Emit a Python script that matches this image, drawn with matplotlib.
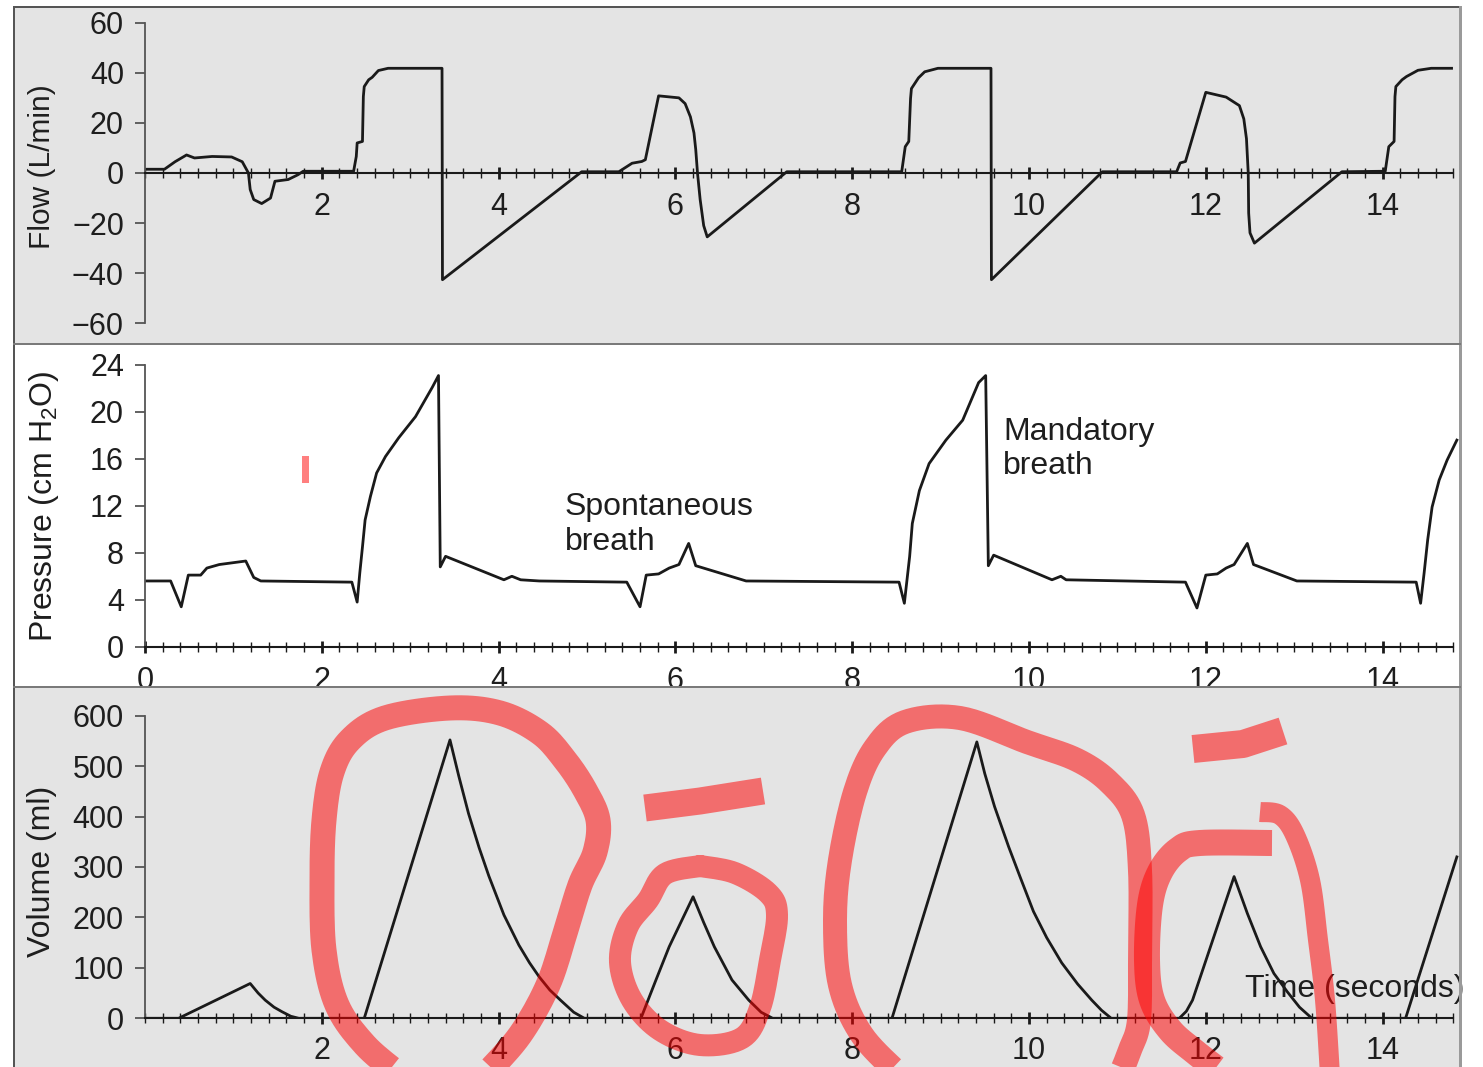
import matplotlib.pyplot as plt
import numpy as np
from matplotlib.lines import Line2D
from matplotlib.patches import Rectangle

plt.rcParams['font.family'] = ['Liberation Sans', 'DejaVu Sans']

# flow (L/min)
flow_time = [0.00, 0.22, 0.34, 0.47, 0.56, 0.76, 0.98, 1.10, 1.17, 1.19, 1.23, 1.32, 1.42, 1.47, 1.62, 1.73, 1.79,
             2.36, 2.39, 2.40, 2.46, 2.47, 2.48, 2.53, 2.57, 2.64, 2.75, 3.36, 3.365,
             4.94, 5.36, 5.51, 5.62, 5.66, 5.81, 6.04, 6.11, 6.17, 6.21, 6.23, 6.25, 6.28, 6.32, 6.36,
             7.26, 8.56, 8.60, 8.64, 8.66, 8.67, 8.75, 8.82, 8.97, 9.57, 9.575,
             10.83, 11.67, 11.71, 11.77, 12.00, 12.23, 12.38, 12.43, 12.46, 12.48, 12.485, 12.50, 12.55,
             13.54, 14.03, 14.07, 14.13, 14.14, 14.15, 14.22, 14.27, 14.40, 14.55, 14.78]
flow_lpm = [1.5, 1.5, 4.5, 7.2, 6.0, 6.6, 6.4, 4.5, 0.0, -6.6, -10.6, -12.2, -10.0, -3.3, -2.6, -0.7, 0.7,
            0.7, 6.6, 12.0, 12.6, 30.5, 34.5, 37.2, 38.2, 40.9, 41.8, 41.8, -42.6,
            0.5, 0.5, 3.9, 4.6, 5.3, 30.8, 30.0, 27.7, 22.4, 16.0, 9.4, 0.0, -10.6, -21.0, -25.5,
            0.5, 0.5, 10.5, 12.6, 29.7, 33.7, 38.0, 40.4, 41.8, 41.8, -42.6,
            0.5, 0.5, 4.0, 4.6, 32.2, 30.3, 26.9, 21.6, 13.7, 0.0, -16.0, -23.9, -28.0,
            0.5, 0.7, 10.5, 12.6, 30.5, 34.5, 37.2, 38.5, 41.0, 41.8, 41.8]

# airway pressure (cm H2O), middle panel
pressure_time = [0.00, 0.29, 0.41, 0.49, 0.63, 0.70, 0.84, 1.14, 1.23, 1.31, 2.34, 2.40, 2.43, 2.46, 2.49,
                 2.55, 2.62, 2.72, 2.87, 3.06, 3.25, 3.32, 3.34, 3.40, 4.06, 4.15, 4.25, 4.46, 5.45, 5.60,
                 5.67, 5.81, 5.93, 6.04, 6.15, 6.23, 6.80, 8.53, 8.59, 8.65, 8.68, 8.76, 8.87, 9.06, 9.25,
                 9.43, 9.51, 9.54, 9.60, 10.26, 10.36, 10.42, 11.77, 11.90, 12.00, 12.13, 12.23, 12.32,
                 12.47, 12.54, 13.03, 14.38, 14.43, 14.47, 14.51, 14.56, 14.64, 14.73, 14.84]
pressure_cmh2o = [5.6, 5.6, 3.4, 6.1, 6.1, 6.7, 7.0, 7.3, 5.9, 5.6, 5.5, 3.8, 6.3, 8.5, 10.8,
                  12.8, 14.8, 16.2, 17.8, 19.6, 22.1, 23.1, 6.8, 7.7, 5.7, 6.0, 5.7, 5.6, 5.5, 3.4,
                  6.1, 6.2, 6.7, 7.0, 8.8, 6.9, 5.6, 5.5, 3.7, 7.7, 10.5, 13.3, 15.6, 17.6, 19.3,
                  22.5, 23.1, 6.9, 7.8, 5.7, 6.0, 5.7, 5.5, 3.3, 6.1, 6.2, 6.7, 7.0,
                  8.8, 7.0, 5.6, 5.5, 3.7, 6.3, 9.1, 11.9, 14.2, 15.9, 17.6]

# volume (ml), bottom panel
volume_time = [0.00, 0.38, 1.19, 1.28, 1.36, 1.46, 1.55, 1.65, 1.74, 2.48, 3.45, 3.55, 3.66, 3.78, 3.89,
               4.06, 4.23, 4.35, 4.46, 4.58, 4.70, 4.85, 4.97, 5.61, 5.78, 5.93, 6.20, 6.32, 6.44, 6.64,
               6.83, 6.97, 7.10, 8.45, 9.41, 9.50, 9.61, 9.77, 9.90, 10.05, 10.20, 10.37, 10.55, 10.71,
               10.82, 10.93, 11.70, 11.78, 11.85, 12.32, 12.47, 12.62, 12.77, 12.92, 13.06, 13.20, 14.26, 14.84]
volume_ml = [0, 0, 69, 50, 36, 22, 13, 4, 0, 0, 552, 480, 406, 338, 282,
             205, 145, 110, 82, 56, 36, 12, 0, 0, 76, 142, 241, 190, 142, 76,
             36, 12, 0, 0, 548, 485, 420, 340, 280, 212, 160, 110, 68, 36,
             16, 0, 0, 14, 36, 281, 208, 142, 89, 53, 22, 0, 0, 320]

x_major = [2, 4, 6, 8, 10, 12, 14]
flow_ticks = [-60, -40, -20, 0, 20, 40, 60]
pressure_ticks = [0, 4, 8, 12, 16, 20, 24]
volume_ticks = [0, 100, 200, 300, 400, 500, 600]

W, H = 1483, 1067
T_END = 14.87
PX0, PX_PER_S = 145.0, 88.4
INK = '#1a1a1a'
TXT = '#1e1e1e'
PANEL_GRAY = '#e4e4e4'


def fx(x):
    return x / W


def fy(y):
    return 1 - y / H


def add_axes_px(fig, top, bottom):
    left = PX0
    right = PX0 + T_END * PX_PER_S
    return fig.add_axes([fx(left), fy(bottom), fx(right) - fx(left), fy(top) - fy(bottom)])


def style(ax, ylim, yticks, xticks, pad):
    ax.set_xlim(0, T_END)
    ax.set_ylim(*ylim)
    ax.patch.set_visible(False)
    ax.spines['top'].set_visible(False)
    ax.spines['right'].set_visible(False)
    ax.spines['left'].set_bounds(*ylim)
    ax.spines['left'].set_color('#555555')
    ax.spines['left'].set_linewidth(1.3)
    ax.spines['bottom'].set_position(('data', 0))
    ax.spines['bottom'].set_bounds(0, 14.8)
    ax.spines['bottom'].set_color(INK)
    ax.spines['bottom'].set_linewidth(1.5)
    ax.set_yticks(yticks)
    ax.set_xticks(xticks)
    ax.set_xticks(np.arange(0, 14.81, 0.2), minor=True)
    ax.tick_params(axis='y', direction='out', length=7.2, width=1.3, color='#555555',
                   labelsize=22, pad=8, labelcolor=TXT)
    ax.tick_params(axis='x', which='major', direction='inout', length=9, width=2.0, color=INK,
                   labelsize=22, pad=pad, labelcolor=TXT)
    ax.tick_params(axis='x', which='minor', direction='inout', length=7.5, width=1.0, color=INK)


def smooth(pts, n=10):
    # rounded path through the hand-drawn stroke's key points (decoration only)
    p = np.array(pts, float)
    p = np.vstack([p[0], p, p[-1]])
    out = []
    for i in range(1, len(p) - 2):
        p0, p1, p2, p3 = p[i - 1], p[i], p[i + 1], p[i + 2]
        for s in np.linspace(0, 1, n, endpoint=False):
            out.append(0.5 * (2 * p1 + (p2 - p0) * s + (2 * p0 - 5 * p1 + 4 * p2 - p3) * s ** 2
                              + (3 * p1 - p0 - 3 * p2 + p3) * s ** 3))
    out.append(p[-2])
    return np.array(out)


fig = plt.figure(figsize=(W / 100, H / 100), dpi=100)
fig.patch.set_facecolor('white')

# panel backgrounds
fig.add_artist(Rectangle((fx(14), fy(344)), fx(1460) - fx(14), fy(7) - fy(344),
                         transform=fig.transFigure, color=PANEL_GRAY, zorder=-10))
fig.add_artist(Rectangle((fx(14), fy(687)), fx(1460) - fx(14), fy(344) - fy(687),
                         transform=fig.transFigure, color='white', zorder=-10))
fig.add_artist(Rectangle((fx(14), fy(1067)), fx(1460) - fx(14), fy(687) - fy(1067),
                         transform=fig.transFigure, color=PANEL_GRAY, zorder=1.5))

ax_flow = add_axes_px(fig, 22.7, 323.3)
ax_press = add_axes_px(fig, 365.0, 646.7)
ax_vol = add_axes_px(fig, 715.7, 1018.3)
ax_flow.set_zorder(1)
ax_press.set_zorder(1)
ax_vol.set_zorder(2)

style(ax_flow, (-60, 60), flow_ticks, x_major, 9.5)
style(ax_press, (0, 24), pressure_ticks, [0] + x_major, 9.5)
style(ax_vol, (0, 600), volume_ticks, x_major, 8)

ax_flow.plot(flow_time, flow_lpm, color=INK, lw=2.0)
ax_press.plot(pressure_time, pressure_cmh2o, color=INK, lw=2.0)
ax_vol.plot(volume_time, volume_ml, color=INK, lw=2.0)

ax_press.text(4.75, 13.2, 'Spontaneous\nbreath', fontsize=23, color=TXT,
              ha='left', va='top', linespacing=1.22)
ax_press.text(9.71, 19.6, 'Mandatory\nbreath', fontsize=23, color=TXT,
              ha='left', va='top', linespacing=1.18)
ax_vol.text(12.44, 88, 'Time (seconds)', fontsize=23, color=TXT, ha='left', va='top')

fig.text(fx(42), fy(167), 'Flow (L/min)', rotation=90, ha='center', va='center',
         fontsize=21.5, color=TXT)
fig.text(fx(44), fy(506), r'Pressure (cm H$_\mathregular{2}$O)', rotation=90, ha='center',
         va='center', fontsize=23, color=TXT)
fig.text(fx(42), fy(871), 'Volume (ml)', rotation=90, ha='center', va='center',
         fontsize=23, color=TXT)

# frame lines
for xs, ys, c, w in [((14, 1460), (7, 7), '#555555', 2),
                     ((14, 14), (7, 1067), '#555555', 2),
                     ((1460, 1460), (7, 1067), '#9a9a9a', 3),
                     ((14, 1460), (344, 344), '#7a7a7a', 2),
                     ((14, 1460), (687, 687), '#7a7a7a', 2)]:
    fig.add_artist(Line2D([fx(v) for v in xs], [fy(v) for v in ys], transform=fig.transFigure,
                          color=c, lw=w * 0.72, zorder=4))

# red hand-drawn marks on top of the chart
red_strokes = [
    (25, 'butt', [(400, 1075), (365, 1045), (337, 1005), (324, 950), (322, 880), (324, 820), (332, 772),
                  (350, 740), (385, 718), (450, 708), (500, 713), (540, 733), (565, 760), (585, 790),
                  (598, 820), (595, 852), (580, 885), (566, 930), (548, 985), (520, 1035), (485, 1075)]),
    (27, 'butt', [(645, 808), (700, 801), (763, 791)]),
    (22, 'round', [(700, 866), (735, 873), (768, 893), (777, 915), (770, 960), (760, 1008), (742, 1038),
                   (700, 1045), (660, 1030), (632, 1000), (620, 962), (628, 926), (648, 900),
                   (665, 874), (700, 866)]),
    (24, 'butt', [(900, 1075), (862, 1035), (840, 985), (835, 920), (840, 860), (855, 792), (875, 748),
                  (905, 722), (960, 718), (1027, 742), (1077, 760), (1110, 783), (1133, 815),
                  (1140, 870), (1140, 950), (1139, 1020), (1130, 1050), (1120, 1075)]),
    (28, 'butt', [(1193, 749), (1243, 744), (1283, 731)]),
    (26, 'butt', [(1272, 843), (1200, 843), (1178, 850), (1160, 872), (1150, 905), (1147, 960),
                  (1152, 1000), (1170, 1030), (1195, 1052), (1225, 1075)]),
    (20, 'butt', [(1260, 812), (1280, 815), (1295, 835), (1310, 880), (1318, 940), (1325, 1000),
                  (1330, 1075)]),
]
for width, cap, pts in red_strokes:
    path = smooth(pts) if len(pts) > 3 else np.array(pts, float)
    fig.add_artist(Line2D(fx(path[:, 0]), fy(path[:, 1]),
                          transform=fig.transFigure, color='#ff0000', alpha=0.52,
                          lw=width * 0.72, solid_capstyle=cap, solid_joinstyle='round',
                          zorder=10))
fig.add_artist(Rectangle((fx(302), fy(483)), fx(309) - fx(302), fy(456) - fy(483),
                         transform=fig.transFigure, color='#ff0000', alpha=0.5, lw=0, zorder=10))

fig.savefig('out.png', dpi=100)
